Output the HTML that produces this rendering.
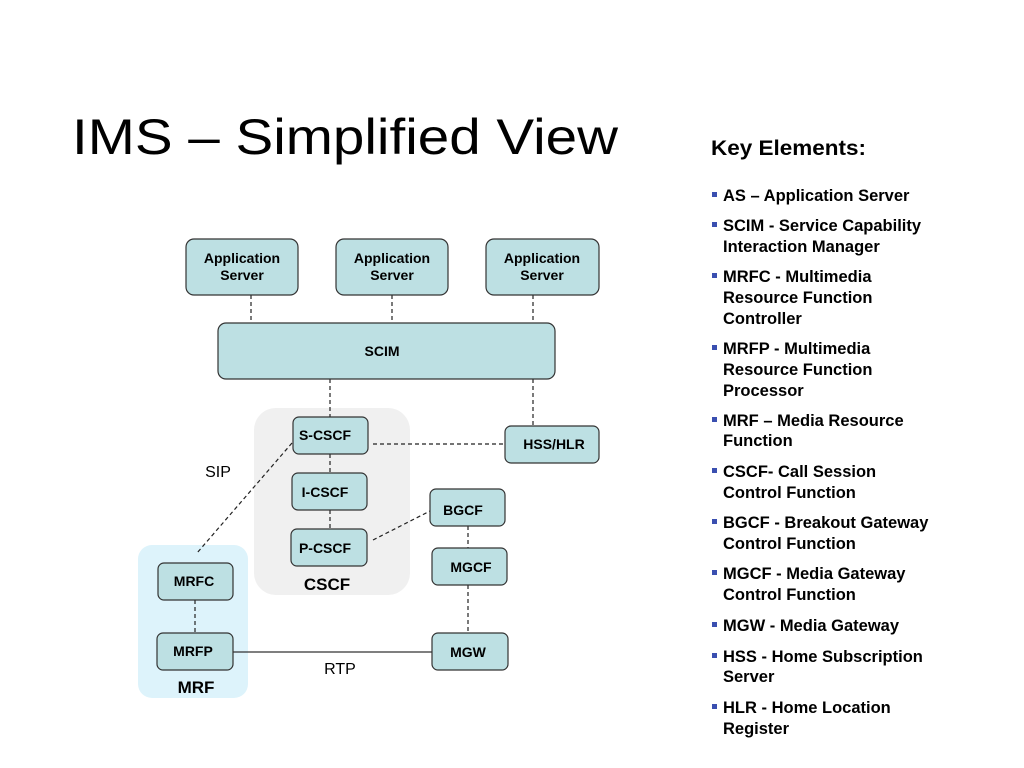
<!DOCTYPE html>
<html><head><meta charset="utf-8"><style>
html,body{margin:0;padding:0;background:#fff;}
svg{display:block;font-family:"Liberation Sans",Arial,sans-serif;}
</style></head><body>
<svg width="1024" height="768" viewBox="0 0 1024 768" xmlns="http://www.w3.org/2000/svg">
<text x="72" y="154" font-size="50" fill="#000" textLength="546" lengthAdjust="spacingAndGlyphs">IMS – Simplified View</text>

<rect x="254" y="408" width="156" height="187" rx="22" fill="#f0f0f0"/>
<rect x="138" y="545" width="110" height="153" rx="14" fill="#ddf3fb"/>

<g stroke="#222" stroke-width="1.2" stroke-dasharray="4,3" fill="none">
<line x1="251" y1="295" x2="251" y2="323"/>
<line x1="392" y1="295" x2="392" y2="323"/>
<line x1="533" y1="295" x2="533" y2="323"/>
<line x1="330" y1="379" x2="330" y2="417"/>
<line x1="533" y1="379" x2="533" y2="426"/>
<line x1="373" y1="444" x2="505" y2="444"/>
<line x1="330" y1="454" x2="330" y2="473"/>
<line x1="330" y1="510" x2="330" y2="529"/>
<line x1="292" y1="443" x2="197" y2="553"/>
<line x1="373" y1="540" x2="430" y2="511"/>
<line x1="468" y1="526" x2="468" y2="548"/>
<line x1="468" y1="585" x2="468" y2="633"/>
<line x1="195" y1="600" x2="195" y2="633"/>
</g>
<line x1="233" y1="652" x2="432" y2="652" stroke="#333" stroke-width="1.2"/>

<g fill="#bde0e3" stroke="#333" stroke-width="1.2">
<rect x="186" y="239" width="112" height="56" rx="8"/>
<rect x="336" y="239" width="112" height="56" rx="8"/>
<rect x="486" y="239" width="113" height="56" rx="8"/>
<rect x="218" y="323" width="337" height="56" rx="8"/>
<rect x="293" y="417" width="75" height="37" rx="6"/>
<rect x="292" y="473" width="75" height="37" rx="6"/>
<rect x="291" y="529" width="76" height="37" rx="6"/>
<rect x="505" y="426" width="94" height="37" rx="6"/>
<rect x="430" y="489" width="75" height="37" rx="6"/>
<rect x="432" y="548" width="75" height="37" rx="6"/>
<rect x="432" y="633" width="76" height="37" rx="6"/>
<rect x="158" y="563" width="75" height="37" rx="6"/>
<rect x="157" y="633" width="76" height="37" rx="6"/>
</g>

<g font-size="14" font-weight="bold" fill="#000" text-anchor="middle">
<text x="242" y="263">Application</text><text x="242" y="280">Server</text>
<text x="392" y="263">Application</text><text x="392" y="280">Server</text>
<text x="542" y="263">Application</text><text x="542" y="280">Server</text>
<text x="382" y="356">SCIM</text>
<text x="325" y="440">S-CSCF</text>
<text x="325" y="497">I-CSCF</text>
<text x="325" y="553">P-CSCF</text>
<text x="554" y="449">HSS/HLR</text>
<text x="463" y="515">BGCF</text>
<text x="471" y="572">MGCF</text>
<text x="468" y="657">MGW</text>
<text x="194" y="586">MRFC</text>
<text x="193" y="656">MRFP</text>
<text x="327" y="590" font-size="17">CSCF</text>
<text x="196" y="693" font-size="17">MRF</text>
</g>
<text x="218" y="477" font-size="16" text-anchor="middle">SIP</text>
<text x="340" y="674" font-size="16" text-anchor="middle">RTP</text>

<text x="711" y="155" font-size="21" font-weight="bold" textLength="155" lengthAdjust="spacingAndGlyphs">Key Elements:</text>
<g font-size="16.5" font-weight="bold" fill="#000">
<text x="723" y="201">AS – Application Server</text>
<text x="723" y="231">SCIM - Service Capability</text><text x="723" y="252">Interaction Manager</text>
<text x="723" y="282">MRFC - Multimedia</text><text x="723" y="303">Resource Function</text><text x="723" y="324">Controller</text>
<text x="723" y="354">MRFP - Multimedia</text><text x="723" y="375">Resource Function</text><text x="723" y="396">Processor</text>
<text x="723" y="426">MRF – Media Resource</text><text x="723" y="446">Function</text>
<text x="723" y="477">CSCF- Call Session</text><text x="723" y="498">Control Function</text>
<text x="723" y="528">BGCF - Breakout Gateway</text><text x="723" y="549">Control Function</text>
<text x="723" y="579">MGCF - Media Gateway</text><text x="723" y="600">Control Function</text>
<text x="723" y="631">MGW - Media Gateway</text>
<text x="723" y="662">HSS - Home Subscription</text><text x="723" y="682">Server</text>
<text x="723" y="713">HLR - Home Location</text><text x="723" y="734">Register</text>
</g>
<g fill="#3a4fb0">
<rect x="712" y="192" width="5" height="5"/><rect x="712" y="222" width="5" height="5"/>
<rect x="712" y="273" width="5" height="5"/><rect x="712" y="345" width="5" height="5"/>
<rect x="712" y="417" width="5" height="5"/><rect x="712" y="468" width="5" height="5"/>
<rect x="712" y="519" width="5" height="5"/><rect x="712" y="570" width="5" height="5"/>
<rect x="712" y="622" width="5" height="5"/><rect x="712" y="653" width="5" height="5"/>
<rect x="712" y="704" width="5" height="5"/>
</g>
</svg>
</body></html>
